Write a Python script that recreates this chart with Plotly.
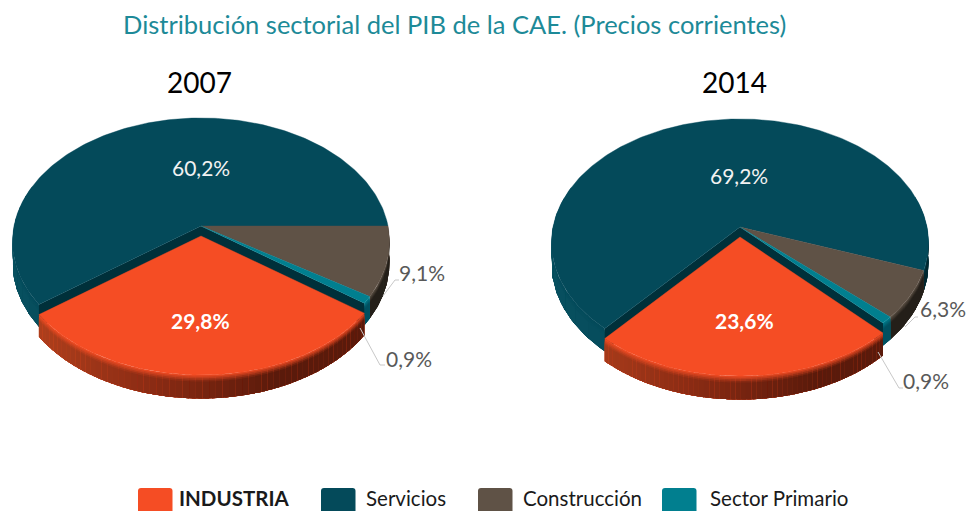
import math
import plotly.graph_objects as go

# --- data ---
title = "Distribución sectorial del PIB de la CAE. (Precios corrientes)"
years = ["2007", "2014"]
categories = ["INDUSTRIA", "Servicios", "Construcción", "Sector Primario"]
values_2007 = [29.8, 60.2, 9.1, 0.9]
values_2014 = [23.6, 69.2, 6.3, 0.9]
start_angle = [0, 20]

# --- styles ---
TOP = {"INDUSTRIA": "#F54D24", "Servicios": "#044A5A",
       "Construcción": "#5F5246", "Sector Primario": "#017F8F"}
CUT = "#00303A"
WALL = {"Servicios": ["#07505F", "#05465A", "#01272F"],
        "Construcción": ["#2E2820", "#2A241D", "#241F19"],
        "Sector Primario": ["#00616E", "#005866", "#005060"],
        "INDUSTRIA": ["#B5431E", "#8C2C14", "#5A1A0B"]}
CENTERS = [(201, 226), (740, 227)]
R_X, R_Y, K, DEPTH, EXPLODE = 187, 121.6, 0.1255, 20.5, 10


def hex2rgb(c):
    return [int(c[i:i + 2], 16) for i in (1, 3, 5)]


def mix(a, b, t):
    a, b = hex2rgb(a), hex2rgb(b)
    return "#%02X%02X%02X" % tuple(round(p + (q - p) * t) for p, q in zip(a, b))


def ramp(cols, t):
    t = max(0, min(1, t / 0.7))
    if t < 0.5:
        return mix(cols[0], cols[1], t * 2)
    return mix(cols[1], cols[2], t * 2 - 1)


def project(theta, c, dy=0, drop=0):
    """Perspective projection of a point on the pie's rim (theta clockwise from east)."""
    u, v = math.cos(math.radians(theta)), math.sin(math.radians(theta))
    d = 1 - K * v
    return c[0] + R_X * u / d, c[1] + dy + R_Y * v / d + drop / d


def arc(a0, a1, c, dy=0, drop=0, step=1.0):
    n = max(2, int(abs(a1 - a0) / step) + 1)
    return [project(a0 + (a1 - a0) * i / (n - 1), c, dy, drop) for i in range(n)]


fig = go.Figure()


def poly(pts, color, lw=0.0):
    xs = [p[0] for p in pts] + [pts[0][0]]
    ys = [p[1] for p in pts] + [pts[0][1]]
    fig.add_trace(go.Scatter(x=xs, y=ys, mode="lines", fill="toself", fillcolor=color,
                             line=dict(color=color, width=lw), hoverinfo="skip", showlegend=False))


def wall(a0, a1, c, name, dy=0, bins=10):
    """Side face: painted in overlapping patches, so no seams show between them."""
    cols = WALL[name]
    layers = [0, 0.07, 0.14, 0.21, 0.28]
    xmin, xmax = c[0] - R_X, c[0] + R_X
    for b in range(bins):
        t0 = a0 + (a1 - a0) * b / bins
        t1 = min(a1, t0 + (a1 - a0) / bins + 1.0)
        xm = project((t0 + t1) / 2, c)[0]
        base = ramp(cols, (xm - xmin) / (xmax - xmin))
        for l0 in layers:
            col = mix(TOP[name], base, min(1, (l0 + 0.05) / 0.3))
            up = arc(t0, t1, c, dy, DEPTH * l0)
            lo = arc(t0, t1, c, dy, DEPTH)
            poly(up + lo[::-1], col)


def wedge(a0, a1, c, color, dy=0):
    poly([(c[0], c[1] + dy)] + arc(a0, a1, c, dy), color, lw=0.4)


for year, vals, rot, c in zip(years, [values_2007, values_2014], start_angle, CENTERS):
    v = dict(zip(categories, vals))
    scale = 360 / sum(vals)
    a_con0 = rot
    a_con1 = a_con0 + v["Construcción"] * scale
    a_pri1 = a_con1 + v["Sector Primario"] * scale
    a_ind1 = a_pri1 + v["INDUSTRIA"] * scale
    a_ser1 = a_con0 + 360

    # side walls of the static slices
    wall(a_ind1, 200, c, "Servicios", bins=10)
    if rot:
        wall(-15, a_con0, c, "Servicios", bins=4)
    wall(a_con0, a_con1, c, "Construcción", bins=3)
    wall(a_con1, a_pri1, c, "Sector Primario", bins=1)

    # cut faces exposed by the exploded slice
    for ang in (a_ind1, a_pri1):
        p = project(ang, c)
        q = project(ang, c, 0, DEPTH)
        poly([(c[0], c[1]), p, q, (c[0], c[1] + DEPTH)], CUT)

    # top faces
    wedge(a_ind1, a_ser1, c, TOP["Servicios"])
    wedge(a_con0, a_con1, c, TOP["Construcción"])
    wedge(a_con1, a_pri1, c, TOP["Sector Primario"])

    # exploded slice
    wall(a_pri1, a_ind1, c, "INDUSTRIA", dy=EXPLODE, bins=60)
    wedge(a_pri1, a_ind1, c, TOP["INDUSTRIA"], dy=EXPLODE)


def pct(x):
    return f"{x:.1f}".replace(".", ",") + "%"


FONT = "Lato, Carlito, 'Open Sans', sans-serif"
ann = []


def text(x, y, s, size, color, bold=False):
    ann.append(dict(x=x, y=y, xref="x", yref="y", text=f"<b>{s}</b>" if bold else s, showarrow=False,
                    xanchor="center", yanchor="middle",
                    font=dict(family=FONT, size=size, color=color)))


text(454, 24, title, 25.5, "#1D8A98")
text(199, 82, years[0], 28, "#000000")
text(734, 82, years[1], 28, "#000000")

GREY = "#595959"
text(201, 167, pct(values_2007[1]), 21, "#F2F2F2")
text(200, 320, pct(values_2007[0]), 21, "#FFFFFF", True)
text(422, 272, pct(values_2007[2]), 21, GREY)
text(409, 358, pct(values_2007[3]), 21, GREY)
text(739, 175, pct(values_2014[1]), 21, "#F2F2F2")
text(744, 320, pct(values_2014[0]), 21, "#FFFFFF", True)
text(943, 308, pct(values_2014[2]), 21, GREY)
text(926, 380, pct(values_2014[3]), 21, GREY)

# leader lines
leaders = [[(383, 296), (395, 280), (399, 280)], [(360, 328), (380, 365), (385, 365)],
           [(905, 327), (915, 317), (918, 317)], [(878, 352), (899, 388), (903, 388)]]
for ln in leaders:
    fig.add_trace(go.Scatter(x=[p[0] for p in ln], y=[p[1] for p in ln], mode="lines",
                             line=dict(color="#C8C8C8", width=1), hoverinfo="skip", showlegend=False))

# legend
swatch_x = [138, 321, 478, 662]
label_x = [233.5, 406, 582.5, 779]
shapes = []
for sx, lx, name in zip(swatch_x, label_x, categories):
    x0, x1, y0, y1, r = sx, sx + 34.5, 488, 516, 3
    path = (f"M{x0 + r},{y0} L{x1 - r},{y0} Q{x1},{y0} {x1},{y0 + r} L{x1},{y1} L{x0},{y1} "
            f"L{x0},{y0 + r} Q{x0},{y0} {x0 + r},{y0} Z")
    shapes.append(dict(type="path", path=path, xref="x", yref="y", fillcolor=TOP[name], line=dict(width=0)))
    text(lx, 498, name, 20.5, "#1A1A1A", name == "INDUSTRIA")

fig.update_layout(
    width=967, height=511, margin=dict(l=0, r=0, t=0, b=0), autosize=False,
    paper_bgcolor="white", plot_bgcolor="white", showlegend=False,
    xaxis=dict(range=[0, 967], visible=False, fixedrange=True),
    yaxis=dict(range=[511, 0], visible=False, fixedrange=True),
    annotations=ann, shapes=shapes,
)
fig.write_html("out.html", config={"displayModeBar": False},
               post_script="document.body.style.margin='0';document.documentElement.style.overflow='hidden';")
